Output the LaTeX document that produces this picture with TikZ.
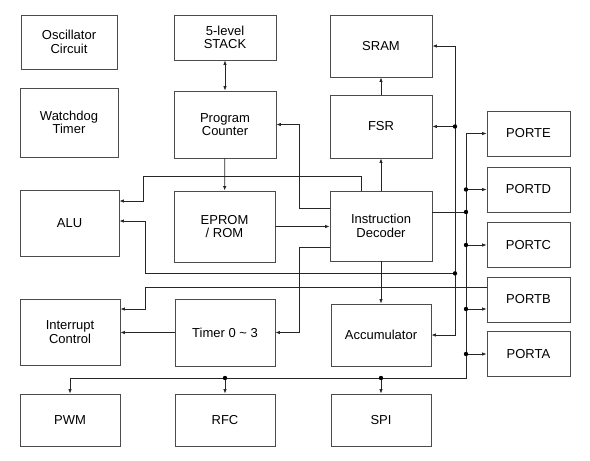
\documentclass[tikz,border=0pt]{standalone}
\usepackage{fontspec}
\setmainfont{Liberation Sans}
\usetikzlibrary{arrows.meta}

\begin{document}
\begin{tikzpicture}[x=1pt,y=-1pt,
        >={Latex[length=4.5pt,width=3.5pt]},
        blk/.style={draw=black!70, line width=0.8pt, align=center, inner sep=0pt,
            font=\fontsize{13}{13.5}\selectfont},
        wire/.style={draw=black!85, line width=0.8pt}]
        \useasboundingbox (0,0) rectangle (590,461);

        \node[blk, minimum width=96pt, minimum height=54pt] (osc) at (69,42) {Oscillator\\Circuit};
        \node[blk, minimum width=98pt, minimum height=69pt] (wdt) at (69,122.5) {Watchdog\\Timer};
        \node[blk, minimum width=99pt, minimum height=66pt] (alu) at (69.5,223) {ALU};
        \node[blk, minimum width=100pt, minimum height=66pt] (intc) at (70,332) {Interrupt\\Control};
        \node[blk, minimum width=100pt, minimum height=52pt] (pwm) at (70,420) {PWM};

        \node[blk, minimum width=102pt, minimum height=45pt] (stack) at (225,37.5) {5-level\\STACK};
        \node[blk, minimum width=102pt, minimum height=67pt] (pc) at (225,124.5) {Program\\Counter};
        \node[blk, minimum width=101pt, minimum height=71pt] (rom) at (224.5,226.5) {EPROM\\/ ROM};
        \node[blk, minimum width=100pt, minimum height=67pt] (timer) at (225,332.5) {Timer 0 \textasciitilde{} 3};
        \node[blk, minimum width=100pt, minimum height=52pt] (rfc) at (225,420) {RFC};

        \node[blk, minimum width=102pt, minimum height=62pt] (sram) at (381,46) {SRAM};
        \node[blk, minimum width=102pt, minimum height=63pt] (fsr) at (381,126.5) {FSR};
        \node[blk, minimum width=102pt, minimum height=70pt] (idec) at (381,226) {Instruction\\Decoder};
        \node[blk, minimum width=100pt, minimum height=62pt] (acc) at (381,335) {Accumulator};
        \node[blk, minimum width=100pt, minimum height=52pt] (spi) at (381,420) {SPI};

        \foreach \p/\y/\t in {porte/133.5/PORTE, portd/189.5/PORTD, portc/245/PORTC,
                portb/299.5/PORTB, porta/354/PORTA}
            \node[blk, minimum width=83pt, minimum height=45pt] (\p) at (528.5,\y) {\t};

        \coordinate (bx) at (455,0);
        \coordinate (px) at (466,0);
        \coordinate (cx) at (299,0);
        \coordinate (bbot) at (0,378);
        \coordinate (mid) at ([yshift=-12pt]idec.south);
        \coordinate (idout) at ([yshift=14pt]idec.east);
        \coordinate (pbin) at ([yshift=-9.5pt]portb.west);

        \draw[wire,<->] (stack) -- (pc);
        \draw[wire,->] (pc) -- (rom);
        \draw[wire,->] (rom.east) -- (rom.east -| idec.west);
        \draw[wire,->] (idec) -- (fsr);
        \draw[wire,->] (fsr) -- (sram);
        \draw[wire,->] (idec) -- (acc);
        \draw[wire,->] (timer.west) -- (timer.west -| intc.east);

        \draw[wire,->] ([xshift=-20pt]idec.north) -- ++(0,-14) -| ([xshift=24pt,yshift=22pt]alu.east) -- ([yshift=22pt]alu.east);
        \draw[wire,->] ([yshift=18pt]idec.west) -| (cx |- pc.east) -- (pc.east);
        \draw[wire,->] ([yshift=-21pt]idec.west) -| (cx |- timer.east) -- (timer.east);

        \draw[wire,<->] (sram.east) -| (bx |- acc.east) -- (acc.east);
        \draw[wire,->] (bx |- fsr.east) -- (fsr.east);
        \draw[wire,->] (bx |- mid) -| ([xshift=26pt,yshift=2pt]alu.east) -- ([yshift=2pt]alu.east);
        \fill (bx |- fsr.east) circle (2.2pt);
        \fill (bx |- mid) circle (2.2pt);

        \draw[wire,->] ([yshift=12.5pt]portb.west) -| ([xshift=25pt,yshift=23pt]intc.east) -- ([yshift=23pt]intc.east);

        \draw[wire,<->] (porte.west) -| (px |- bbot) -| (pwm.north);
        \draw[wire] (idout) -- (px |- idout);
        \fill (px |- idout) circle (2.2pt);
        \foreach \p in {portd,portc,porta} {
            \draw[wire,->] (px |- \p.west) -- (\p.west);
            \fill (px |- \p.west) circle (2.2pt);
        }
        \draw[wire,->] (px |- pbin) -- (pbin);
        \fill (px |- pbin) circle (2.2pt);
        \foreach \b in {rfc,spi} {
            \draw[wire,->] (\b.north |- bbot) -- (\b.north);
            \fill (\b.north |- bbot) circle (2.2pt);
        }
\end{tikzpicture}
\end{document}
